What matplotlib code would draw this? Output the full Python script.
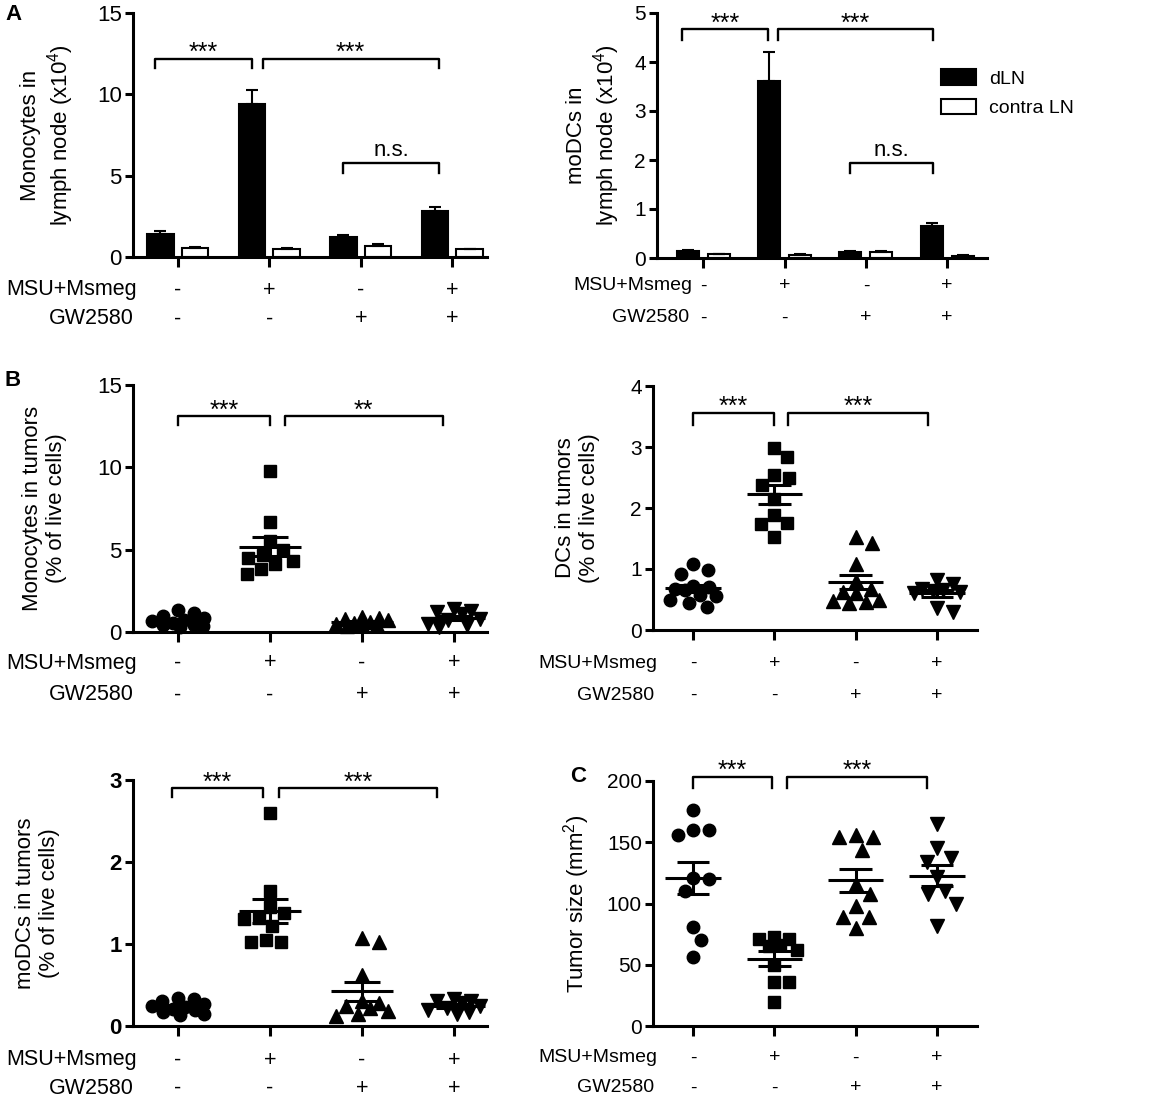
import numpy as np
import matplotlib
matplotlib.use("Agg")
import matplotlib.pyplot as plt
from matplotlib.patches import Patch

plt.rcParams['font.family'] = ['Liberation Sans', 'DejaVu Sans']
plt.rcParams['mathtext.fontset'] = 'custom'
plt.rcParams['mathtext.rm'] = 'Liberation Sans'
plt.rcParams['mathtext.it'] = 'Liberation Sans:italic'
plt.rcParams['mathtext.bf'] = 'Liberation Sans:bold'

# ---- data ----
GROUPS = [0, 1, 2, 3]
MSU = ["-", "+", "-", "+"]
GW = ["-", "-", "+", "+"]

# A: cells in lymph node (x10^4), mean and SEM
mono_ln_dln = [1.4, 9.4, 1.25, 2.85]
mono_ln_dln_err = [0.2, 0.85, 0.13, 0.25]
mono_ln_contra = [0.53, 0.52, 0.68, 0.47]
mono_ln_contra_err = [0.06, 0.03, 0.12, 0.03]
modc_ln_dln = [0.14, 3.61, 0.12, 0.66]
modc_ln_dln_err = [0.03, 0.59, 0.03, 0.06]
modc_ln_contra = [0.075, 0.07, 0.115, 0.05]
modc_ln_contra_err = [0.01, 0.01, 0.035, 0.01]

# B: cells in tumors (% of live cells), one value per mouse
mono_tum = [
    [1.35, 1.15, 1.0, 0.85, 0.75, 0.65, 0.55, 0.45, 0.4, 0.35, 0.3],
    [9.8, 6.7, 5.5, 5.0, 4.7, 4.5, 4.3, 4.1, 3.8, 3.5],
    [0.9, 0.85, 0.8, 0.7, 0.6, 0.55, 0.5, 0.45, 0.4, 0.35],
    [1.4, 1.3, 1.2, 1.1, 0.8, 0.7, 0.5, 0.4, 0.3],
]
dc_tum = [
    [1.09, 0.98, 0.92, 0.72, 0.70, 0.68, 0.66, 0.57, 0.55, 0.50, 0.44, 0.37],
    [2.98, 2.84, 2.54, 2.49, 2.38, 2.15, 1.88, 1.75, 1.74, 1.52],
    [1.52, 1.43, 1.08, 0.80, 0.68, 0.62, 0.60, 0.50, 0.48, 0.46, 0.45],
    [0.82, 0.75, 0.68, 0.66, 0.64, 0.62, 0.60, 0.36, 0.30],
]
modc_tum = [
    [0.34, 0.33, 0.30, 0.27, 0.25, 0.23, 0.21, 0.19, 0.17, 0.15, 0.14],
    [2.6, 1.65, 1.45, 1.38, 1.32, 1.30, 1.22, 1.05, 1.02, 1.02],
    [1.07, 1.03, 0.62, 0.30, 0.28, 0.24, 0.22, 0.18, 0.15, 0.12],
    [0.33, 0.31, 0.30, 0.28, 0.25, 0.22, 0.20, 0.17, 0.15],
]
# C: tumor size (mm^2)
tumor_size = [
    [176, 160, 160, 156, 121, 120, 110, 81, 70, 56],
    [73, 71, 71, 66, 65, 62, 50, 36, 36, 20],
    [156, 154, 154, 144, 116, 108, 98, 89, 89, 80],
    [165, 145, 137, 134, 122, 110, 108, 100, 82],
]
MARKERS = ["o", "s", "^", "v"]

W, H = 1152, 1101
fig = plt.figure(figsize=(W / 100, H / 100), dpi=100)
LW = 2.2
STAR = 18


def px_axes(l, t, r, b):
    return fig.add_axes([l / W, 1 - b / H, (r - l) / W, (b - t) / H])


def style(ax, xlim, ylim, yticks, tsize=16, bold=False):
    ax.set_xlim(*xlim); ax.set_ylim(*ylim)
    for s in ["top", "right"]:
        ax.spines[s].set_visible(False)
    for s in ["left", "bottom"]:
        ax.spines[s].set_linewidth(LW)
    ax.set_yticks(yticks)
    ax.set_xticks(GROUPS); ax.set_xticklabels([])
    ax.tick_params(width=LW, length=6, labelsize=tsize, pad=2)
    ax.tick_params(axis="x", length=7)
    if bold:
        for t in ax.get_yticklabels():
            t.set_fontweight("bold")


def rows(ax, fs=15.5, dx=4, d1=33, d2=62):
    tr = ax.get_xaxis_transform()
    for i in GROUPS:
        ax.annotate(MSU[i], xy=(i, 0), xycoords=tr, xytext=(0, -d1 * 0.72), textcoords="offset points",
                    ha="center", va="center", fontsize=fs)
        ax.annotate(GW[i], xy=(i, 0), xycoords=tr, xytext=(0, -d2 * 0.72), textcoords="offset points",
                    ha="center", va="center", fontsize=fs)
    ax.annotate("MSU+Msmeg", xy=(0, 0), xycoords="axes fraction", xytext=(dx * 0.72, -d1 * 0.72),
                textcoords="offset points", ha="right", va="center", fontsize=fs)
    ax.annotate("GW2580", xy=(0, 0), xycoords="axes fraction", xytext=((dx - 3) * 0.72, -d2 * 0.72),
                textcoords="offset points", ha="right", va="center", fontsize=fs)


def ylab(ax, x, text, fs=16):
    ax.text(x, 0.5, text, rotation=90, transform=ax.transAxes, ha="center", va="center",
            multialignment="center", fontsize=fs)


def bracket(ax, x1, x2, y, h, label, ns=False):
    ax.plot([x1, x1, x2, x2], [y - h, y, y, y - h], color="k", lw=1.7, clip_on=False)
    ax.annotate(label, xy=((x1 + x2) / 2, y), xytext=(0, 5 if ns else -1), textcoords="offset points",
                ha="center", va="baseline", fontsize=16 if ns else STAR, annotation_clip=False)


def bars(ax, dln, dln_err, contra, contra_err, off=0.19, w=0.29):
    x = np.array(GROUPS, dtype=float)
    ax.bar(x - off, dln, w, color="k", edgecolor="k", lw=1.5, zorder=2)
    ax.bar(x + off, contra, w, color="white", edgecolor="k", lw=1.5, zorder=2)
    ax.errorbar(x - off, dln, yerr=[np.zeros(4), dln_err], fmt="none", ecolor="k", elinewidth=1.5,
                capsize=4, capthick=1.5, zorder=3)
    ax.errorbar(x + off, contra, yerr=[np.zeros(4), contra_err], fmt="none", ecolor="k", elinewidth=1.5,
                capsize=4, capthick=1.5, zorder=3)


def swarm(ax, x0, vals, ms, cap=0.28):
    # spread points sideways so they overlap as little as possible within +-cap
    vals = np.asarray(vals, dtype=float)
    pts = ax.transData.transform(np.column_stack([np.full(len(vals), x0), vals]))
    ys = pts[:, 1]
    d = ms * 100 / 72 * 1.25
    unit = ax.transData.transform((1, 0))[0] - ax.transData.transform((0, 0))[0]
    lim = cap * unit
    steps = np.arange(0, lim + 0.5, 1.0)
    cand = sorted(set(list(steps) + list(-steps)), key=lambda v: (abs(v), -v))
    placed = []
    xs = np.zeros(len(vals))
    for i in np.argsort(-vals):
        best, best_d = 0.0, -1
        for c in cand:
            md = min([np.hypot(c - px, ys[i] - py) for px, py in placed] or [1e9])
            if md >= d:
                best = c
                break
            if md > best_d + 0.5:
                best, best_d = c, md
        placed.append((best, ys[i])); xs[i] = best
    return ax.transData.inverted().transform(np.column_stack([pts[:, 0] + xs, ys]))[:, 0]


def scatter(ax, data, ms=9):
    for i, vals in enumerate(data):
        size = ms * (0.95 if MARKERS[i] == "s" else 1.05 if MARKERS[i] in "^v" else 1.0)
        xs = swarm(ax, i, vals, size)
        ax.plot(xs, vals, MARKERS[i], color="k", ms=size, zorder=3, clip_on=False)
        v = np.asarray(vals); m = v.mean(); se = v.std(ddof=1) / np.sqrt(len(v))
        ax.hlines(m, i - 0.34, i + 0.34, color="k", lw=LW, zorder=4)
        ax.hlines([m - se, m + se], i - 0.2, i + 0.2, color="k", lw=LW, zorder=4)
        ax.vlines(i, m - se, m + se, color="k", lw=LW, zorder=4)


# ---- A left: monocytes in lymph node ----
ax = px_axes(133, 13, 487, 257)
style(ax, (-0.49, 3.38), (0, 15), [0, 5, 10, 15])
bars(ax, mono_ln_dln, mono_ln_dln_err, mono_ln_contra, mono_ln_contra_err)
bracket(ax, -0.25, 0.81, 12.2, 0.6, "***")
bracket(ax, 0.93, 2.85, 12.2, 0.6, "***")
bracket(ax, 1.81, 2.85, 5.78, 0.6, "n.s.", ns=True)
ylab(ax, -0.24, "Monocytes in\nlymph node (x10$^{\\mathregular{4}}$)")
rows(ax)
fig.text(5 / W, 1 - 15 / H, "A", fontsize=16, fontweight="bold", va="center", ha="left")

# ---- A right: moDCs in lymph node ----
ax = px_axes(657, 13, 987, 258)
style(ax, (-0.57, 3.49), (0, 5), [0, 1, 2, 3, 4, 5], tsize=15)
bars(ax, modc_ln_dln, modc_ln_dln_err, modc_ln_contra, modc_ln_contra_err, off=0.19, w=0.27)
bracket(ax, -0.26, 0.80, 4.67, 0.22, "***")
bracket(ax, 0.92, 2.82, 4.67, 0.22, "***")
bracket(ax, 1.80, 2.82, 1.94, 0.21, "n.s.", ns=True)
ylab(ax, -0.19, "moDCs in\nlymph node (x10$^{\\mathregular{4}}$)")
rows(ax, fs=14, dx=35, d1=28, d2=60)
handles = [Patch(facecolor="k", edgecolor="k", lw=1.5, label="dLN"),
           Patch(facecolor="white", edgecolor="k", lw=1.5, label="contra LN")]
ax.legend(handles=handles, loc="upper left", bbox_to_anchor=(0.86, 0.77), frameon=False, fontsize=14,
          handlelength=1.8, handleheight=0.85, handletextpad=0.7, labelspacing=0.55, borderpad=0,
          borderaxespad=0)

# ---- B left: monocytes in tumors ----
ax = px_axes(133, 385, 487, 632)
style(ax, (-0.49, 3.36), (0, 15), [0, 5, 10, 15])
scatter(ax, mono_tum)
bracket(ax, 0.0, 1.0, 13.1, 0.55, "***")
bracket(ax, 1.16, 2.88, 13.1, 0.55, "**")
ylab(ax, -0.251, "Monocytes in tumors\n(% of live cells)")
rows(ax, d1=31, d2=63)
fig.text(5 / W, 1 - 380 / H, "B", fontsize=16, fontweight="bold", va="center", ha="left")

# ---- B right: DCs in tumors ----
ax = px_axes(653, 386, 977, 630)
style(ax, (-0.49, 3.49), (0, 4), [0, 1, 2, 3, 4], tsize=15)
scatter(ax, dc_tum)
bracket(ax, 0.0, 1.0, 3.56, 0.2, "***")
bracket(ax, 1.17, 2.89, 3.56, 0.2, "***")
ylab(ax, -0.232, "DCs in tumors\n(% of live cells)")
rows(ax, fs=14, dx=4, d1=33, d2=65)

# ---- bottom left: moDCs in tumors ----
ax = px_axes(133, 780, 487, 1026)
style(ax, (-0.49, 3.36), (0, 3), [0, 1, 2, 3], bold=True)
scatter(ax, modc_tum)
bracket(ax, -0.07, 0.92, 2.90, 0.11, "***")
bracket(ax, 1.1, 2.82, 2.90, 0.11, "***")
ylab(ax, -0.27, "moDCs in tumors\n(% of live cells)")
rows(ax, d1=34, d2=62)

# ---- C: tumor size ----
ax = px_axes(653, 781, 977, 1026)
style(ax, (-0.49, 3.49), (0, 200), [0, 50, 100, 150, 200], tsize=15)
scatter(ax, tumor_size)
bracket(ax, 0.0, 0.97, 203.5, 9, "***")
bracket(ax, 1.16, 2.88, 203.5, 9, "***")
ylab(ax, -0.236, "Tumor size (mm$^{\\mathregular{2}}$)")
rows(ax, fs=14, dx=4, d1=32, d2=62)
fig.text(578 / W, 1 - 777 / H, "C", fontsize=16, fontweight="bold", va="center", ha="center")

fig.savefig("out.png", dpi=100)
